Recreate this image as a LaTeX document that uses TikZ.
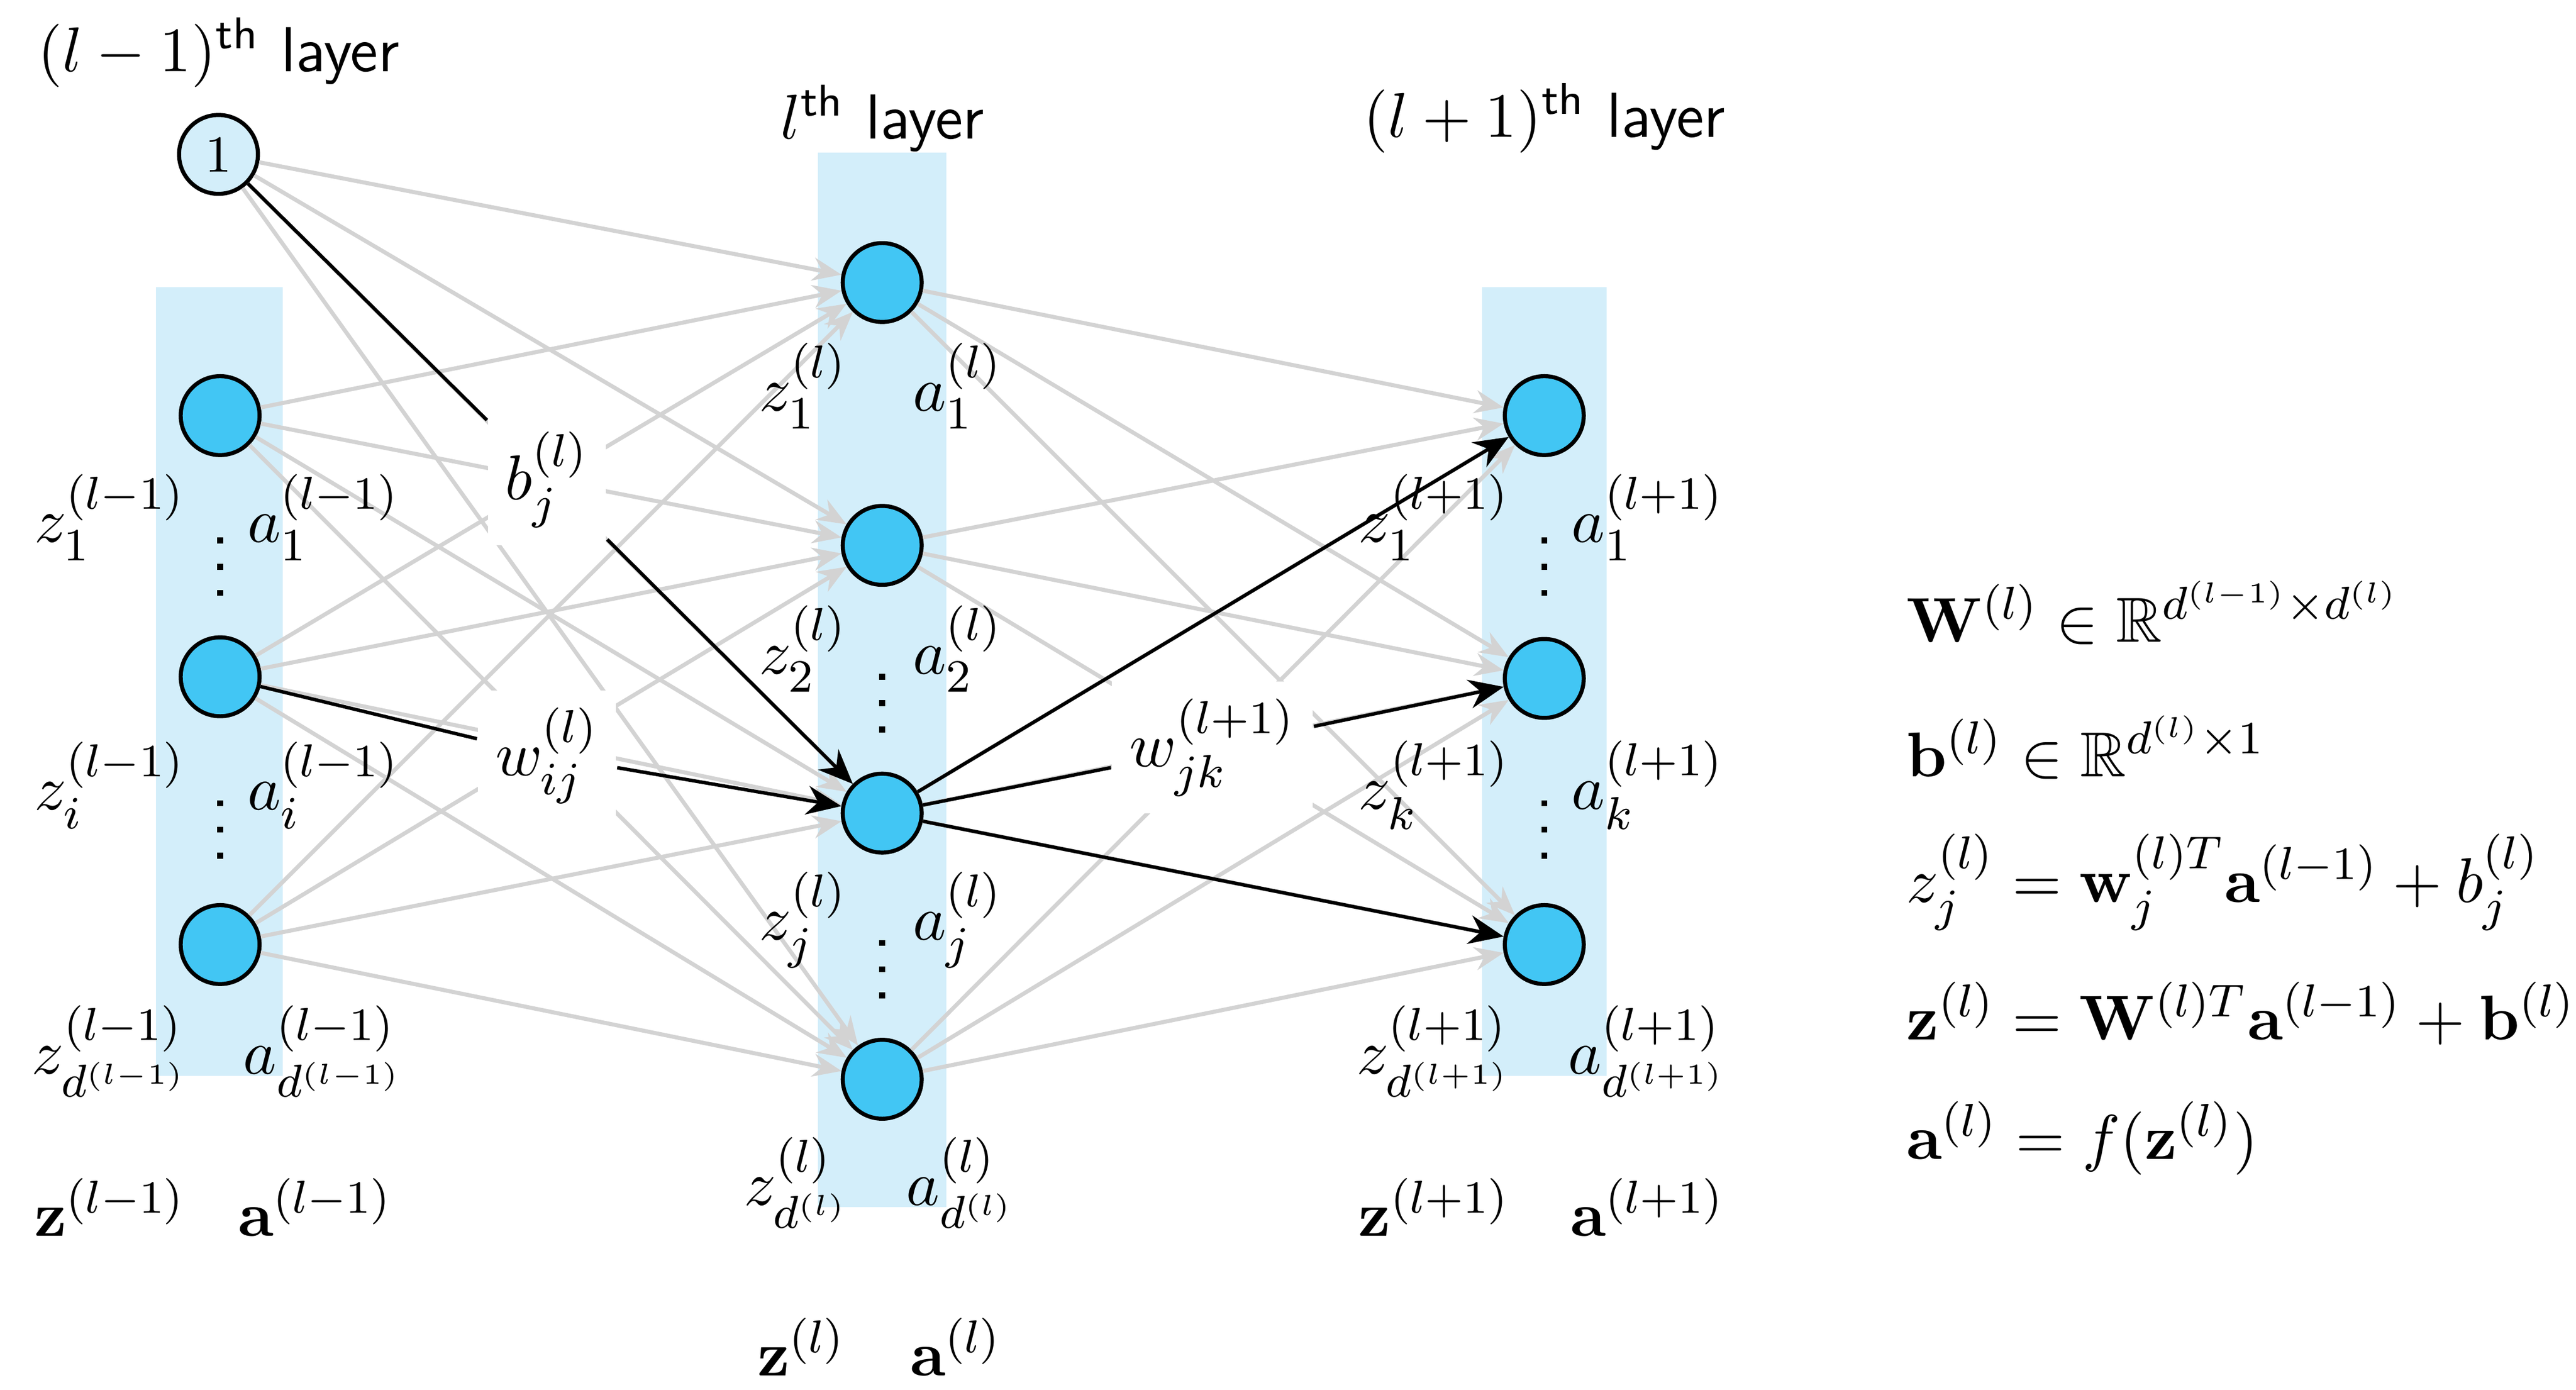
\documentclass[tikz,border=0pt]{standalone}
\usepackage{amsmath,amssymb}
\usetikzlibrary{arrows.meta}
\begin{document}
\begin{tikzpicture}[x=0.01cm,y=-0.01cm,font=\fontsize{11}{13}\selectfont,
  neu/.style={circle,draw=black,line width=0.7pt,fill=neuc,minimum size=0.48cm,inner sep=0pt},
  bias/.style={circle,draw=black,line width=0.7pt,fill=bandc,minimum size=0.48cm,inner sep=0pt,font=\fontsize{9}{10}\selectfont},
  gl/.style={draw=lgray,line width=0.7pt,-{Stealth[length=5pt,width=4pt]}},
  bl/.style={draw=black,line width=0.6pt},
  ba/.style={draw=black,line width=0.6pt,-{Stealth[length=6pt,width=5pt]}},
  wl/.style={fill=white,inner sep=3pt},
  dt/.style={fill=black}]
\definecolor{bandc}{HTML}{D3EEFA}
\definecolor{neuc}{HTML}{42C6F4}
\definecolor{lgray}{HTML}{D3D3D3}
\useasboundingbox (0,0) rectangle (1568,846);
% bands
\fill[bandc] (95,175) rectangle (172,655);
\fill[bandc] (498,93) rectangle (576,735);
\fill[bandc] (902,175) rectangle (978,655);
% neurons
\node[bias] (b) at (133,94) {1};
\node[neu] (p1) at (134,253) {};
\node[neu] (p2) at (134,412) {};
\node[neu] (p3) at (134,575) {};
\node[neu] (c1) at (537,172) {};
\node[neu] (c2) at (537,332) {};
\node[neu] (c3) at (537,495) {};
\node[neu] (c4) at (537,657) {};
\node[neu] (n1) at (940,253) {};
\node[neu] (n2) at (940,413) {};
\node[neu] (n3) at (940,575) {};
% gray connections
\foreach \s in {b,p1,p2,p3}{\foreach \t in {c1,c2,c3,c4}{\draw[gl] (\s) -- (\t);}}
\foreach \s in {c1,c2,c3,c4}{\foreach \t in {n1,n2,n3}{\draw[gl] (\s) -- (\t);}}
% weight labels
\node[wl] (bj) at (333,292) {$b_j^{(l)}$};
\node[wl] (wij) at (333,460) {$w_{ij}^{(l)}$};
\node[wl] (wjk) at (738,455) {$w_{jk}^{(l+1)}$};
% black
\draw[bl] (b) -- (bj);
\draw[ba] (bj) -- (c3);
\draw[bl] (p2) -- (wij);
\draw[ba] (wij) -- (c3);
\draw[ba] (c3) -- (n1);
\draw[bl] (c3) -- (wjk);
\draw[ba] (wjk) -- (n2);
\draw[ba] (c3) -- (n3);
% titles
\node at (133,32) {$(l-1)^{\textsf{th}}$ \textsf{layer}};
\node at (537,72) {$l^{\textsf{th}}$ \textsf{layer}};
\node at (940,72) {$(l+1)^{\textsf{th}}$ \textsf{layer}};
% dots
\foreach \x/\y in {134/345,134/505,537/428,537/590,940/345,940/505}{
  \foreach \d in {-16,0,16}{\fill (\x-1.8,\y+\d-1.8) rectangle (\x+1.8,\y+\d+1.8);}}
% labels l-1
\node (z11) at (67,315) {$z_1^{(l-1)}$};
\node (a11) at (197,315) {$a_1^{(l-1)}$};
\node (z1i) at (67,478) {$z_i^{(l-1)}$};
\node (a1i) at (197,478) {$a_i^{(l-1)}$};
\node (z1d) at (67,640) {$z_{d^{(l-1)}}^{(l-1)}$};
\node (a1d) at (197,640) {$a_{d^{(l-1)}}^{(l-1)}$};
\node (Z1) at (67,735) {$\mathbf{z}^{(l-1)}$};
\node (A1) at (192,735) {$\mathbf{a}^{(l-1)}$};
% labels l
\node (z21) at (489,235) {$z_1^{(l)}$};
\node (a21) at (583,235) {$a_1^{(l)}$};
\node (z22) at (489,395) {$z_2^{(l)}$};
\node (a22) at (583,395) {$a_2^{(l)}$};
\node (z2j) at (489,560) {$z_j^{(l)}$};
\node (a2j) at (583,560) {$a_j^{(l)}$};
\node (z2d) at (485,720) {$z_{d^{(l)}}^{(l)}$};
\node (a2d) at (585,720) {$a_{d^{(l)}}^{(l)}$};
\node (Z2) at (488,820) {$\mathbf{z}^{(l)}$};
\node (A2) at (582,820) {$\mathbf{a}^{(l)}$};
% labels l+1
\node (z31) at (873,315) {$z_1^{(l+1)}$};
\node (a31) at (1003,315) {$a_1^{(l+1)}$};
\node (z3k) at (873,478) {$z_k^{(l+1)}$};
\node (a3k) at (1003,478) {$a_k^{(l+1)}$};
\node (z3d) at (873,640) {$z_{d^{(l+1)}}^{(l+1)}$};
\node (a3d) at (1003,640) {$a_{d^{(l+1)}}^{(l+1)}$};
\node (Z3) at (873,735) {$\mathbf{z}^{(l+1)}$};
\node (A3) at (1003,735) {$\mathbf{a}^{(l+1)}$};
% equations
\node[anchor=west] (e1) at (1148,373) {$\mathbf{W}^{(l)}\in\mathbb{R}^{d^{(l-1)}\times d^{(l)}}$};
\node[anchor=west] (e2) at (1148,455) {$\mathbf{b}^{(l)}\in\mathbb{R}^{d^{(l)}\times 1}$};
\node[anchor=west] (e3) at (1148,537) {$z_j^{(l)}=\mathbf{w}_j^{(l)T}\mathbf{a}^{(l-1)}+b_j^{(l)}$};
\node[anchor=west] (e4) at (1148,617) {$\mathbf{z}^{(l)}=\mathbf{W}^{(l)T}\mathbf{a}^{(l-1)}+\mathbf{b}^{(l)}$};
\node[anchor=west] (e5) at (1148,693) {$\mathbf{a}^{(l)}=f(\mathbf{z}^{(l)})$};
\end{tikzpicture}
\end{document}
